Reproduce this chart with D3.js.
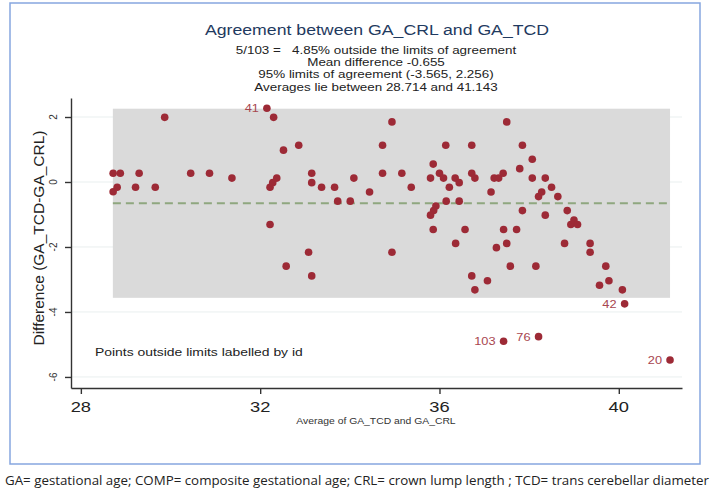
<!DOCTYPE html>
<html>
<head>
<meta charset="utf-8">
<script src="https://cdn.jsdelivr.net/npm/d3@7"></script>
<style>
  body { margin: 0; background: #fff; }
  svg text { font-family: "Liberation Sans", Arial, sans-serif; white-space: pre; }
</style>
</head>
<body>
<div id="chart"></div>
<script>
// Bland-Altman values
var avgVals = [28.72, 28.88, 28.72, 28.81, 29.30, 29.22, 29.66, 29.87, 30.45, 30.87,
  31.37, 32.30, 32.22, 32.28, 32.37, 32.22, 32.52, 32.86, 32.58, 33.15,
  33.15, 33.08, 33.15, 33.37, 33.66, 33.73, 34.01, 34.09, 34.44, 34.73,
  34.73, 34.94, 34.94, 35.16, 35.37, 35.80, 35.86, 36.00, 36.09, 35.92,
  35.87, 35.80, 35.86, 36.14, 36.15, 36.22, 36.35, 36.44, 36.44, 36.36,
  36.57, 36.72, 36.72, 36.79, 36.72, 36.79, 37.07, 37.15, 37.22, 37.32,
  37.27, 37.42, 37.50, 37.50, 37.43, 37.72, 37.58, 37.85, 37.79, 37.85,
  38.07, 38.07, 38.15, 38.36, 38.21, 38.28, 38.36, 38.50, 38.64, 38.85,
  38.93, 39.00, 39.08, 38.79, 39.36, 39.36, 39.71, 39.78, 39.57, 40.08];
var diffVals = [0.27, 0.27, -0.30, -0.16, 0.27, -0.16, -0.16, 1.99, 0.27, 0.27,
  0.12, 1.99, -0.16, -0.02, 0.12, -1.31, 0.98, 1.13, -2.59, 0.27,
  -0.02, -2.16, -2.89, -0.16, -0.16, -0.59, -0.59, 0.12, -0.31, 1.13,
  0.27, 1.85, -2.16, 0.27, -0.16, 0.12, 0.55, 0.27, 0.12, -0.74,
  -0.88, -1.02, -1.46, 1.13, -0.59, -0.16, 0.12, -0.02, -0.59, -1.89,
  -1.46, 1.13, 0.27, 0.12, -2.89, -3.32, -3.04, -0.31, 0.12, 0.12,
  -2.02, 0.27, 1.85, -1.89, -1.46, -1.46, -2.59, 1.13, 0.41, -0.88,
  0.70, 0.12, -2.59, 0.12, -0.45, -0.31, -1.02, -0.16, -0.45, -0.88,
  -1.31, -1.17, -1.31, -1.89, -1.89, -2.16, -2.59, -3.04, -3.18, -3.32];

// points outside the limits, labelled by id
var outIds = ["41", "42", "103", "76", "20"];
var outAvg = [32.15, 40.13, 37.43, 38.21, 41.143];
var outDiff = [2.27, -3.75, -4.90, -4.76, -5.48];

var meanDiff = -0.655, loaLow = -3.565, loaHigh = 2.256;
var avgMin = 28.714, avgMax = 41.143;

var xTicks = [28, 32, 36, 40];
var yTicks = [-6, -4, -2, 0, 2];

var titleText = "Agreement between GA_CRL and GA_TCD";
var subLines = ["5/103 =   4.85% outside the limits of agreement",
  "Mean difference -0.655",
  "95% limits of agreement (-3.565, 2.256)",
  "Averages lie between 28.714 and 41.143"];
var caption = "GA= gestational age; COMP= composite gestational age; CRL= crown lump length ; TCD= trans cerebellar diameter";

var W = 714, H = 491;
var SX = 1.22; // the picture is stretched sideways
var dotColor = "#9d2a36";

var svg = d3.select("#chart").append("svg")
  .attr("width", W).attr("height", H);

var x = d3.scaleLinear().domain([27.78, 41.41]).range([71, 682]);
var y = d3.scaleLinear().domain([-6.34, 2.585]).range([388, 98]);

function addText(txt, px, py, size, anchor, color) {
  return svg.append("text")
    .attr("transform", "translate(" + px + "," + py + ") scale(" + SX + ",1)")
    .attr("text-anchor", anchor)
    .attr("dominant-baseline", "central")
    .attr("xml:space", "preserve")
    .style("font-size", size + "px")
    .style("fill", color)
    .text(txt);
}

// frame
svg.append("rect")
  .attr("x", 10).attr("y", 3).attr("width", 690).attr("height", 461)
  .attr("fill", "none").attr("stroke", "#86a6df").attr("stroke-width", 1.5);

// grid lines
svg.append("g").selectAll("line")
  .data(yTicks).enter().append("line")
  .attr("x1", x.range()[0]).attr("x2", x.range()[1])
  .attr("y1", function (d) { return y(d); })
  .attr("y2", function (d) { return y(d); })
  .attr("stroke", "#e9efef").attr("stroke-width", 1);

// limits of agreement band
svg.append("rect")
  .attr("x", x(avgMin)).attr("y", y(loaHigh))
  .attr("width", x(avgMax) - x(avgMin))
  .attr("height", y(loaLow) - y(loaHigh))
  .attr("fill", "#dadada");

// mean difference
svg.append("line")
  .attr("x1", x(avgMin)).attr("x2", x(avgMax))
  .attr("y1", y(meanDiff)).attr("y2", y(meanDiff))
  .attr("stroke", "#8fa77f").attr("stroke-width", 2)
  .attr("stroke-dasharray", "8,5");

// axes
svg.append("g")
  .attr("transform", "translate(0," + y.range()[0] + ")")
  .call(d3.axisBottom(x).tickValues(xTicks).tickSize(6).tickSizeOuter(0).tickFormat(""));
svg.append("g")
  .attr("transform", "translate(" + x.range()[0] + ",0)")
  .call(d3.axisLeft(y).tickValues(yTicks).tickSize(6).tickSizeOuter(0).tickFormat(""));
svg.selectAll(".domain, .tick line")
  .attr("stroke", "#333").attr("stroke-width", 1.4);

xTicks.forEach(function (t) {
  addText(String(t), x(t), 407, 15, "middle", "#222");
});
yTicks.forEach(function (t) {
  svg.append("text")
    .attr("transform", "translate(53," + y(t) + ") rotate(-90)")
    .attr("text-anchor", "middle")
    .attr("dominant-baseline", "central")
    .style("font-size", "10px")
    .style("fill", "#333")
    .text(t);
});

// points
svg.append("g").selectAll("circle")
  .data(d3.range(avgVals.length)).enter().append("circle")
  .attr("cx", function (i) { return x(avgVals[i]); })
  .attr("cy", function (i) { return y(diffVals[i]); })
  .attr("r", 3.8)
  .attr("fill", dotColor);

svg.append("g").selectAll("circle")
  .data(d3.range(outIds.length)).enter().append("circle")
  .attr("cx", function (i) { return x(outAvg[i]); })
  .attr("cy", function (i) { return y(outDiff[i]); })
  .attr("r", 3.8)
  .attr("fill", dotColor);
outIds.forEach(function (id, i) {
  addText(id, x(outAvg[i]) - 8, y(outDiff[i]), 10.5, "end", "#a8464f");
});

// titles
addText(titleText, 377, 30, 14.5, "middle", "#1f3a60");
subLines.forEach(function (s, i) {
  addText(s, 376, 50 + i * 12.4, 11, "middle", "#222");
});

addText("Average of GA_TCD and GA_CRL", 376, 421, 8.5, "middle", "#333");
svg.append("text")
  .attr("transform", "translate(38,238) rotate(-90)")
  .attr("text-anchor", "middle")
  .attr("dominant-baseline", "central")
  .style("font-size", "15.5px")
  .style("fill", "#222")
  .text("Difference (GA_TCD-GA_CRL)");

addText("Points outside limits labelled by id", 95, 352, 11.4, "start", "#222");

svg.append("text")
  .attr("x", 5).attr("y", 480)
  .attr("dominant-baseline", "central")
  .attr("textLength", 704).attr("lengthAdjust", "spacingAndGlyphs")
  .style("font-family", "'Open Sans', sans-serif")
  .style("font-size", "13px")
  .style("fill", "#222")
  .text(caption);
</script>
</body>
</html>
